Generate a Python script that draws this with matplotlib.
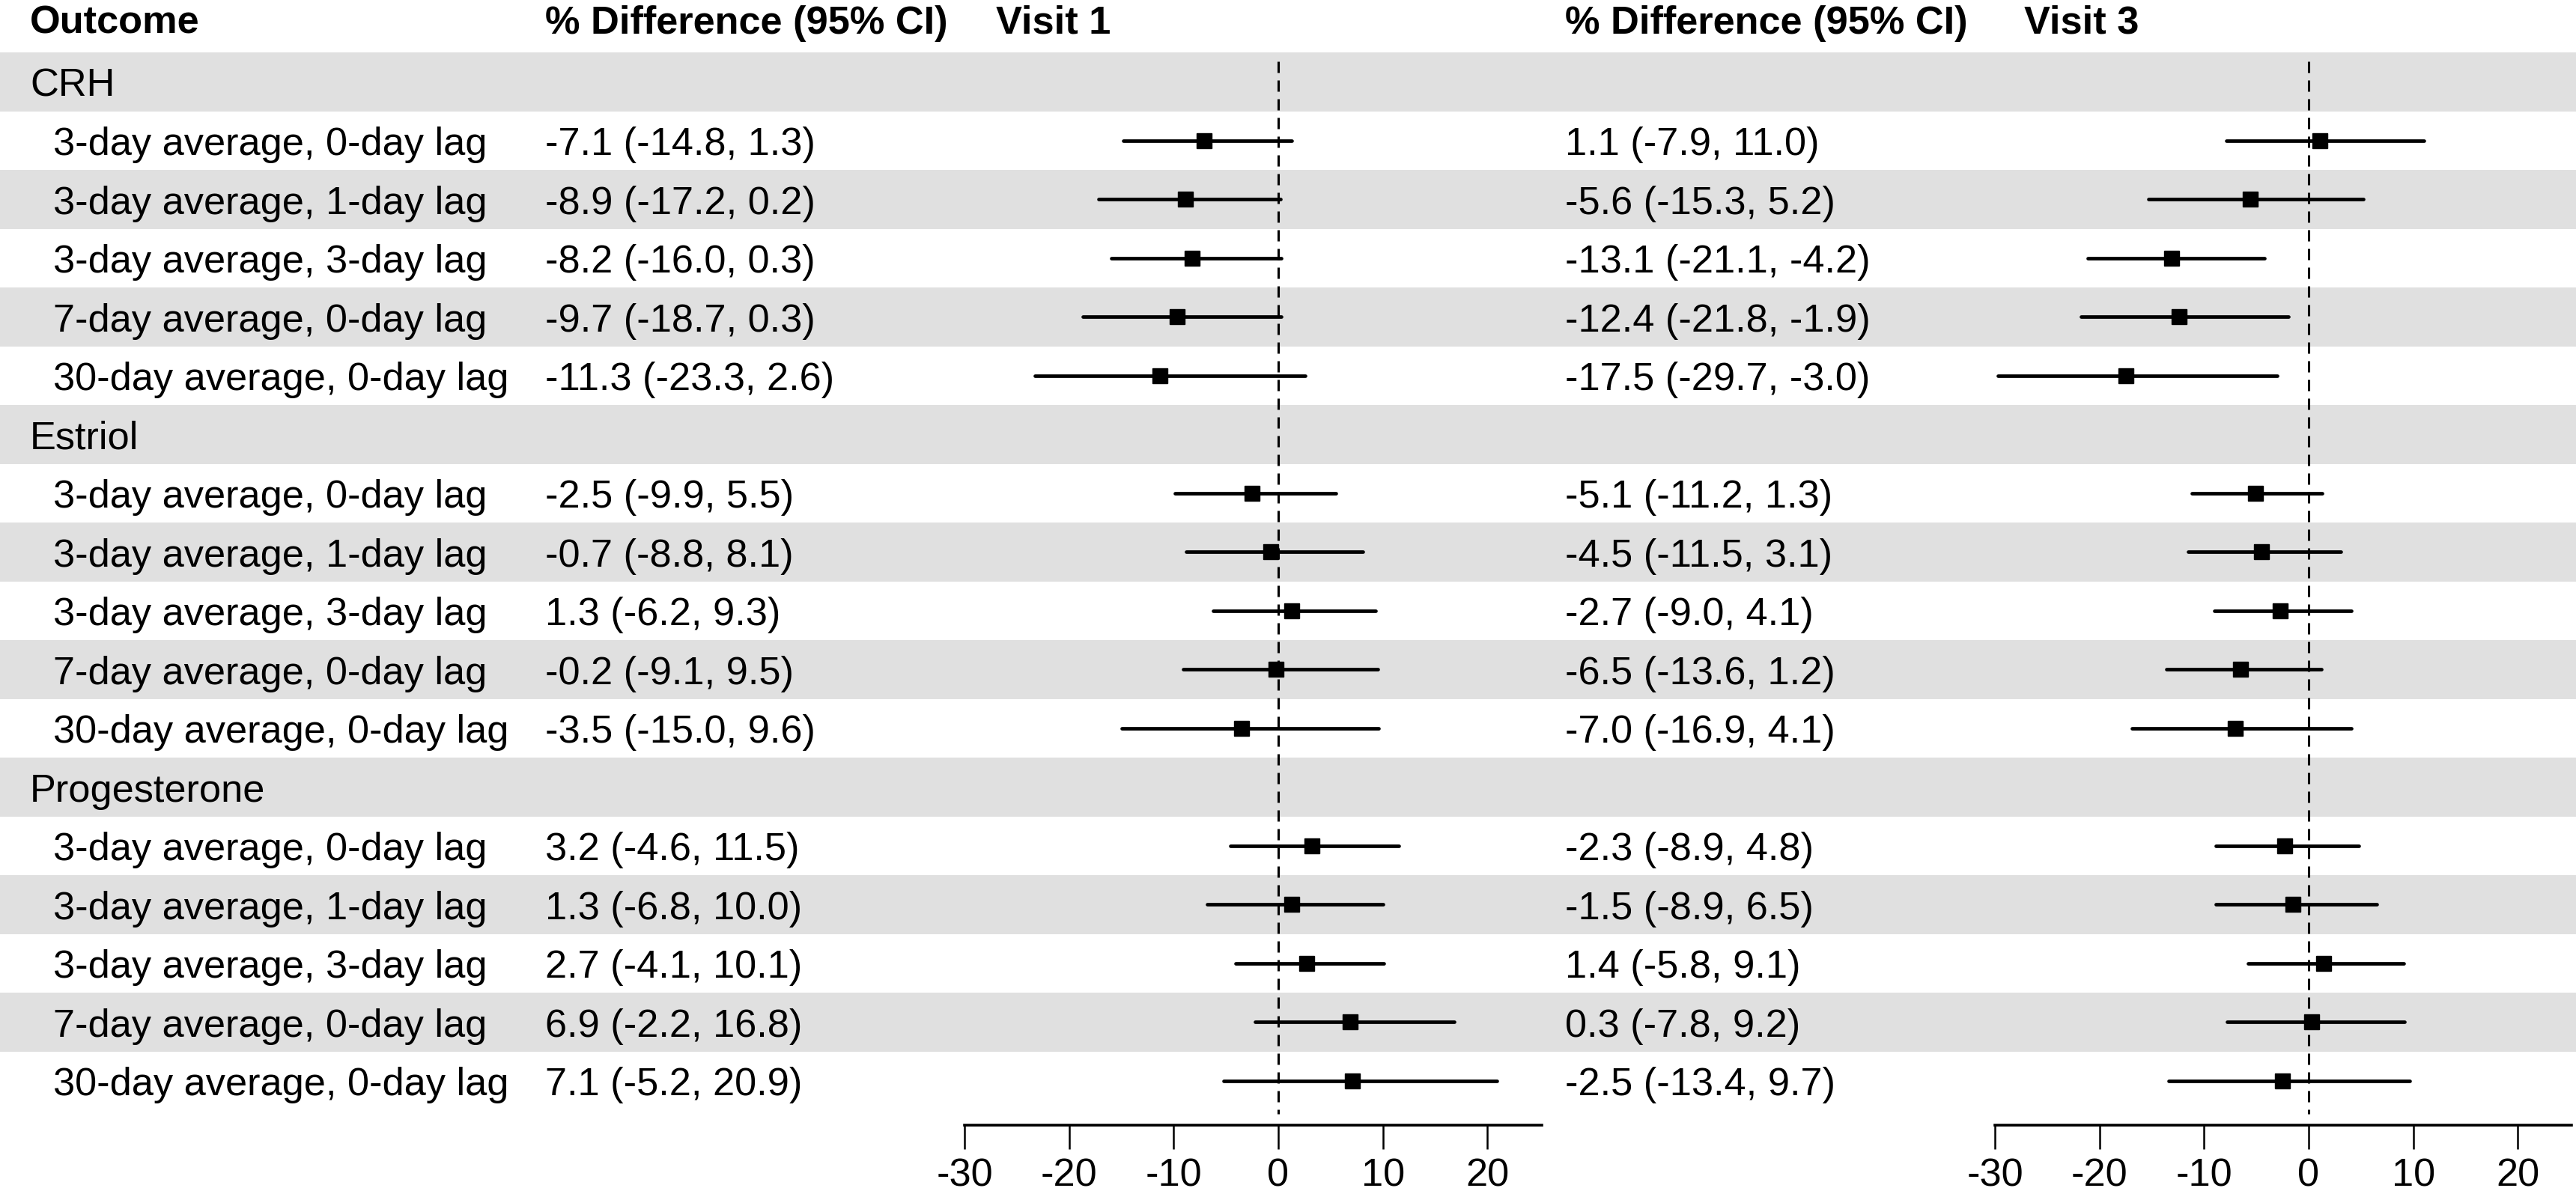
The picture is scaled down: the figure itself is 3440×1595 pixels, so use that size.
import matplotlib
matplotlib.use("Agg")
import matplotlib.pyplot as plt

plt.rcParams['font.family'] = ['Liberation Sans', 'DejaVu Sans']
plt.rcParams['lines.scale_dashes'] = False
plt.rcParams['axes.unicode_minus'] = False

# Data
groups = ["CRH", "Estriol", "Progesterone"]
exposures = ["3-day average, 0-day lag", "3-day average, 1-day lag", "3-day average, 3-day lag",
             "7-day average, 0-day lag", "30-day average, 0-day lag"]

v1_est = [-7.1, -8.9, -8.2, -9.7, -11.3,
          -2.5, -0.7, 1.3, -0.2, -3.5,
          3.2, 1.3, 2.7, 6.9, 7.1]
v1_lo = [-14.8, -17.2, -16.0, -18.7, -23.3,
         -9.9, -8.8, -6.2, -9.1, -15.0,
         -4.6, -6.8, -4.1, -2.2, -5.2]
v1_hi = [1.3, 0.2, 0.3, 0.3, 2.6,
         5.5, 8.1, 9.3, 9.5, 9.6,
         11.5, 10.0, 10.1, 16.8, 20.9]

v3_est = [1.1, -5.6, -13.1, -12.4, -17.5,
          -5.1, -4.5, -2.7, -6.5, -7.0,
          -2.3, -1.5, 1.4, 0.3, -2.5]
v3_lo = [-7.9, -15.3, -21.1, -21.8, -29.7,
         -11.2, -11.5, -9.0, -13.6, -16.9,
         -8.9, -8.9, -5.8, -7.8, -13.4]
v3_hi = [11.0, 5.2, -4.2, -1.9, -3.0,
         1.3, 3.1, 4.1, 1.2, 4.1,
         4.8, 6.5, 9.1, 9.2, 9.7]

x_ticks = [-30, -20, -10, 0, 10, 20]

# Layout (pixels)
W, H = 3441, 1595
TOP = 70
ROW = 78.5
AXIS_Y = 1503
FS = 37.7
TXT_DY = 6 / ROW   # nudge text down so cap height sits on the row centre
n_rows = len(groups) * (len(exposures) + 1)

fig = plt.figure(figsize=(W / 100, H / 100), dpi=100)

# background axes: full figure, x in pixels, y in row units
bg = fig.add_axes([0, 0, 1, 1])
bg.set_xlim(0, W)
bg.set_ylim(-0.5 + (H - TOP) / ROW, -0.5 - TOP / ROW)
bg.axis('off')

# row layout
row_y, row_label, row_is_group = [], [], []
r = 0
for g in groups:
    row_y.append(r); row_label.append(g); row_is_group.append(True); r += 1
    for e in exposures:
        row_y.append(r); row_label.append(e); row_is_group.append(False); r += 1
data_rows = [y for y, isg in zip(row_y, row_is_group) if not isg]

for y in row_y:
    if y % 2 == 0:
        bg.axhspan(y - 0.5, y + 0.5, color='#e0e0e0', lw=0, zorder=0)

header_y = -0.5 - (TOP - 31) / ROW
bg.text(40, header_y, "Outcome", fontsize=FS, fontweight='bold', va='center')
bg.text(728, header_y, "% Difference (95% CI)", fontsize=FS, fontweight='bold', va='center')
bg.text(1330, header_y, "Visit 1", fontsize=FS, fontweight='bold', va='center')
bg.text(2090, header_y, "% Difference (95% CI)", fontsize=FS, fontweight='bold', va='center')
bg.text(2703, header_y, "Visit 3", fontsize=FS, fontweight='bold', va='center')

for y, lab, isg in zip(row_y, row_label, row_is_group):
    bg.text(40 if isg else 71, y + TXT_DY, lab, fontsize=FS, va='center')

for x0, est, lo, hi in [(728, v1_est, v1_lo, v1_hi), (2090, v3_est, v3_lo, v3_hi)]:
    for y, e, l, h in zip(data_rows, est, lo, hi):
        bg.text(x0, y + TXT_DY, f"{e:.1f} ({l:.1f}, {h:.1f})", fontsize=FS, va='center')

# forest panels
panels = [(1288, 2059, v1_est, v1_lo, v1_hi), (2664, 3434, v3_est, v3_lo, v3_hi)]
for left, right, est, lo, hi in panels:
    ax = fig.add_axes([left / W, 1 - AXIS_Y / H, (right - left) / W, (AXIS_Y - TOP) / H])
    ax.patch.set_alpha(0)
    ax.set_xlim(-30, 30 * (right - left) / (1707 - 1288) - 30)
    ax.set_ylim(-0.5 + (AXIS_Y - TOP) / ROW, -0.5)
    for s in ['top', 'right', 'left']:
        ax.spines[s].set_visible(False)
    ax.spines['bottom'].set_linewidth(2.6)
    ax.set_yticks([])
    ax.set_xticks(x_ticks)
    ax.tick_params(axis='x', length=23, width=1.8, pad=8, labelsize=FS)
    ax.vlines(0, -0.35, n_rows - 0.44, colors='black', lw=2.2,
              linestyles=[(0, (10.8, 7.2))], zorder=2)
    ax.hlines(data_rows, lo, hi, colors='black', lw=3.4, capstyle='round', zorder=3, clip_on=False)
    ax.plot(est, data_rows, 's', color='black', ms=14, zorder=4, clip_on=False)

fig.savefig('out.png', dpi=100)
